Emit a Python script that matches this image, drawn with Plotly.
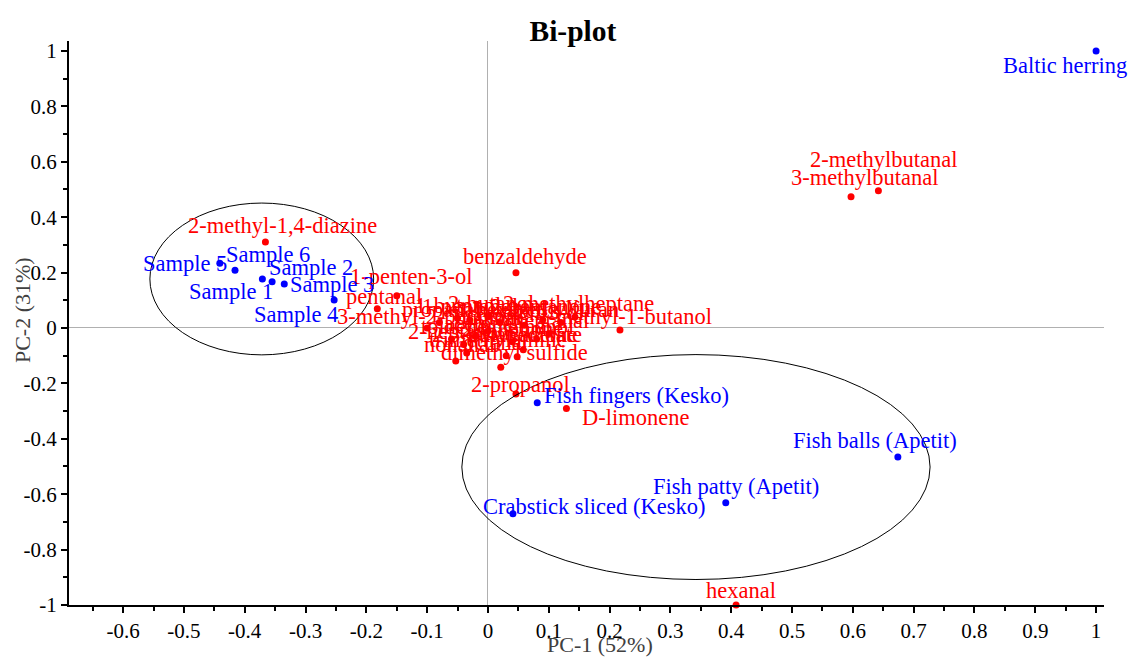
import plotly.graph_objects as go

# ---------------- data ----------------
# Samples (scores, blue)
sample_names = ["Baltic herring", "Sample 5", "Sample 6", "Sample 1", "Sample 2", "Sample 3",
                "Sample 4", "Fish fingers (Kesko)", "Fish balls (Apetit)", "Fish patty (Apetit)",
                "Crabstick sliced (Kesko)"]
sample_pc1 = [1.0, -0.441, -0.416, -0.371, -0.355, -0.335, -0.253, 0.081, 0.674, 0.391, 0.041]
sample_pc2 = [1.0, 0.234, 0.208, 0.177, 0.167, 0.159, 0.101, -0.270, -0.466, -0.631, -0.671]

# Compounds (loadings, red)
comp_names = ["2-methylbutanal", "3-methylbutanal", "2-methyl-1,4-diazine", "benzaldehyde",
              "1-penten-3-ol", "pentanal", "hexanal", "2-propanol", "D-limonene",
              "nonanal", "dimethyl sulfide", "2,3-butanedione", "trimethylamine", "ethyl acetate",
              "octanal", "3-methyl-2-butanone", "1-pentanol", "2-methylheptane", "2-methyl-1-butanol",
              "1-butanol", "2-butanol", "1-octen-3-ol", "heptanal", "acetone", "2-butanone",
              "ethanol", "toluene", "2-ethylfuran", "propanal", "butanal", "2-pentanone",
              "1-hexanol", "2-heptanone"]
comp_pc1 = [0.642, 0.597, -0.366, 0.046, -0.150, -0.182, 0.408, 0.046, 0.129,
            -0.053, 0.021, -0.035, 0.048, 0.058, 0.030, -0.100, -0.030, 0.143, 0.217,
            -0.050, 0.000, 0.060, 0.100, -0.020, 0.040, 0.080, -0.060, 0.120, -0.080,
            0.000, 0.090, 0.020, -0.040]
comp_pc2 = [0.495, 0.474, 0.310, 0.199, 0.116, 0.069, -1.000, -0.238, -0.291,
            -0.119, -0.142, -0.090, -0.104, -0.079, -0.100, 0.000, 0.030, 0.040, -0.007,
            0.035, 0.040, 0.010, -0.020, -0.030, -0.050, -0.040, -0.040, 0.020, 0.020,
            -0.010, 0.030, 0.020, -0.060]

x_ticks = [-0.6, -0.5, -0.4, -0.3, -0.2, -0.1, 0, 0.1, 0.2, 0.3, 0.4, 0.5, 0.6, 0.7, 0.8, 0.9, 1]
x_ticktext = ["-0.6", "-0.5", "-0.4", "-0.3", "-0.2", "-0.1", "0", "0.1", "0.2", "0.3", "0.4",
              "0.5", "0.6", "0.7", "0.8", "0.9", "1"]
y_ticks = [-1, -0.8, -0.6, -0.4, -0.2, 0, 0.2, 0.4, 0.6, 0.8, 1]
y_ticktext = ["-1", "-0.8", "-0.6", "-0.4", "-0.2", "0", "0.2", "0.4", "0.6", "0.8", "1"]

# ---------------- styling (label offsets in pixels) ----------------
sample_dx = [-31, -35, 33, -31, 39, 48, -38, 99, -23, 10, 81]
sample_dy = [-15, 0, 16, -13, 14, -1, -14, 7, 17, 16, 7]
comp_dx = [5, 13, 17, 9, 14, 7, 5, 5, 69,
           4, 14, 38, -20, 2, -11, 5, 0, 4, 5,
           0, 3, 4, 2, 3, 0, 4, 2, 3, 2, 0, 3, 2, 0]
comp_dy = [31, 19, 17, 16, 19, 12, 15, 9, -9,
           16, 15, 18, 17, 15, 13, 11, 13, 13, 13,
           13, 13, 13, 13, 13, 13, 13, 13, 13, 13, 13, 13, 13, 13]

FONT = "Liberation Serif"
BLUE = "#0000ff"
RED = "#ff0000"
LBL = 22.5

fig = go.Figure()

fig.add_trace(go.Scatter(x=comp_pc1, y=comp_pc2, mode="markers",
                         marker=dict(color=RED, size=7), cliponaxis=False,
                         hoverinfo="text", text=comp_names, showlegend=False))
fig.add_trace(go.Scatter(x=sample_pc1, y=sample_pc2, mode="markers",
                         marker=dict(color=BLUE, size=7), cliponaxis=False,
                         hoverinfo="text", text=sample_names, showlegend=False))

annotations = []
for n, x, y, dx, dy in zip(comp_names, comp_pc1, comp_pc2, comp_dx, comp_dy):
    annotations.append(dict(x=x, y=y, text=n, showarrow=False, xshift=dx, yshift=dy,
                            xanchor="center", yanchor="middle",
                            font=dict(family=FONT, size=LBL, color=RED)))
for n, x, y, dx, dy in zip(sample_names, sample_pc1, sample_pc2, sample_dx, sample_dy):
    annotations.append(dict(x=x, y=y, text=n, showarrow=False, xshift=dx, yshift=dy,
                            xanchor="center", yanchor="middle",
                            font=dict(family=FONT, size=LBL, color=BLUE)))

annotations.append(dict(text="PC-1 (52%)", xref="paper", yref="paper", x=0.513, y=-0.0709,
                        xanchor="center", yanchor="middle",
                        showarrow=False, font=dict(family=FONT, size=22, color="#404040")))
annotations.append(dict(text="PC-2 (31%)", xref="paper", yref="paper", x=-0.0454, y=0.523,
                        xanchor="center", yanchor="middle",
                        showarrow=False, textangle=-90,
                        font=dict(family=FONT, size=22, color="#404040")))

shapes = [
    dict(type="circle", xref="x", yref="y", x0=-0.372 - 0.184, x1=-0.372 + 0.184,
         y0=0.177 - 0.274, y1=0.177 + 0.274, line=dict(color="black", width=1)),
    dict(type="circle", xref="x", yref="y", x0=0.342 - 0.385, x1=0.342 + 0.385,
         y0=-0.502 - 0.406, y1=-0.502 + 0.406, line=dict(color="black", width=1)),
]

fig.update_layout(
    width=1130, height=658,
    margin=dict(l=69, r=26, t=41, b=53),
    plot_bgcolor="white", paper_bgcolor="white",
    font=dict(family=FONT, color="black"),
    title=dict(text="<b>Bi-plot</b>", x=0.507, xanchor="center", y=0.954, yanchor="middle",
               font=dict(family=FONT, size=29.5, color="black")),
    annotations=annotations,
    shapes=shapes,
    xaxis=dict(range=[-0.689, 1.013], showgrid=False, zeroline=True, zerolinecolor="#b0b0b0",
               zerolinewidth=1, showline=True, linecolor="black", linewidth=2,
               tickmode="array", tickvals=x_ticks, ticktext=x_ticktext,
               ticks="outside", ticklen=6, tickcolor="black", tickwidth=1.5,
               minor=dict(tickmode="linear", tick0=0.05, dtick=0.1, ticks="outside",
                          ticklen=4, tickcolor="black", tickwidth=1.5),
               tickfont=dict(family=FONT, size=21, color="black")),
    yaxis=dict(range=[-1, 1.036], showgrid=False, zeroline=True, zerolinecolor="#b0b0b0",
               zerolinewidth=1, showline=True, linecolor="black", linewidth=2,
               tickmode="array", tickvals=y_ticks, ticktext=y_ticktext,
               ticks="outside", ticklen=6, tickcolor="black", tickwidth=1.5,
               minor=dict(tickmode="linear", tick0=0.1, dtick=0.2, ticks="outside",
                          ticklen=4, tickcolor="black", tickwidth=1.5),
               tickfont=dict(family=FONT, size=21, color="black")),
)

fig.write_html("out.html")
